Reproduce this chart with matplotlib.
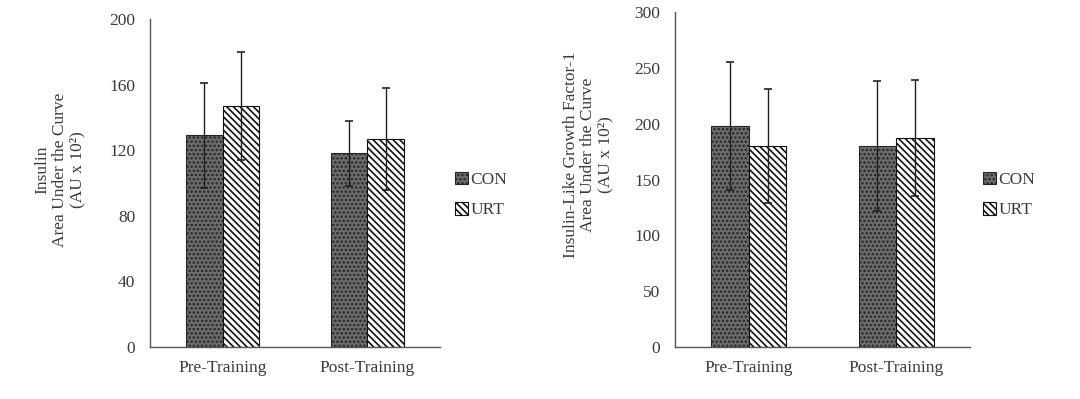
import matplotlib
matplotlib.use("Agg")
import matplotlib.pyplot as plt
import numpy as np

plt.rcParams['font.family'] = ['Liberation Serif', 'DejaVu Serif']
plt.rcParams['hatch.linewidth'] = 1.2

categories = ["Pre-Training", "Post-Training"]
groups = ["CON", "URT"]

insulin_con = [129, 118]
insulin_urt = [147, 127]
insulin_con_sd = [32, 20]
insulin_urt_sd = [33, 31]

igf_con = [198, 180]
igf_urt = [180, 187]
igf_con_sd = [57, 58]
igf_urt_sd = [51, 52]

insulin_ticks = [0, 40, 80, 120, 160, 200]
igf_ticks = [0, 50, 100, 150, 200, 250, 300]

insulin_ylabel = "Insulin\nArea Under the Curve\n(AU x 10²)"
igf_ylabel = "Insulin-Like Growth Factor-1\nArea Under the Curve\n(AU x 10²)"

TXT = '#3a3a3a'
FS = 12.5
fig = plt.figure(figsize=(10.8, 3.99), dpi=100)

def draw(ax, con, urt, con_sd, urt_sd, ticks):
    x = np.arange(len(categories))
    w = 0.255
    ekw = dict(ecolor='#222222', elinewidth=1.0, capsize=3, capthick=1.2)
    ax.bar(x - w/2, con, w, yerr=con_sd, color='#6c6c6c', edgecolor='#262626',
           hatch='....', linewidth=0.8, error_kw=ekw, label=groups[0])
    ax.bar(x + w/2, urt, w, yerr=urt_sd, color='white', edgecolor='#111111',
           hatch='\\\\\\\\\\', linewidth=0.8, error_kw=ekw, label=groups[1])
    ax.set_xlim(-0.5, 1.5)
    ax.set_ylim(ticks[0], ticks[-1])
    ax.set_yticks(ticks)
    ax.set_xticks(x)
    ax.set_xticklabels(categories)
    for s in ['top', 'right']:
        ax.spines[s].set_visible(False)
    for s in ['left', 'bottom']:
        ax.spines[s].set_color('#555555')
        ax.spines[s].set_linewidth(1.0)
    ax.tick_params(length=0, labelsize=FS, colors=TXT, pad=10.5)
    ax.tick_params(axis='x', pad=9)

ax1 = fig.add_axes([0.1389, 0.1303, 0.2685, 0.8221])
draw(ax1, insulin_con, insulin_urt, insulin_con_sd, insulin_urt_sd, insulin_ticks)
ax2 = fig.add_axes([0.625, 0.1303, 0.273, 0.8396])
draw(ax2, igf_con, igf_urt, igf_con_sd, igf_urt_sd, igf_ticks)

fig.text(60/1080, 1 - 170/399, insulin_ylabel, rotation=90, ha='center', va='center',
         fontsize=FS, color=TXT, linespacing=1.1, multialignment='center')
fig.text(588/1080, 1 - 155/399, igf_ylabel, rotation=90, ha='center', va='center',
         fontsize=FS, color=TXT, linespacing=1.1, multialignment='center')

for ax, pos in [(ax1, (455/1080, 1 - 195/399)), (ax2, (983/1080, 1 - 195/399))]:
    handles, labels = ax.get_legend_handles_labels()
    lg = fig.legend(handles, labels, loc='center left', bbox_to_anchor=pos, frameon=False,
                    fontsize=FS, handlelength=0.75, handleheight=0.75, handletextpad=0.12,
                    labelspacing=0.8, borderpad=0, borderaxespad=0)
    for t in lg.get_texts():
        t.set_color(TXT)

fig.savefig("out.png", dpi=100)
